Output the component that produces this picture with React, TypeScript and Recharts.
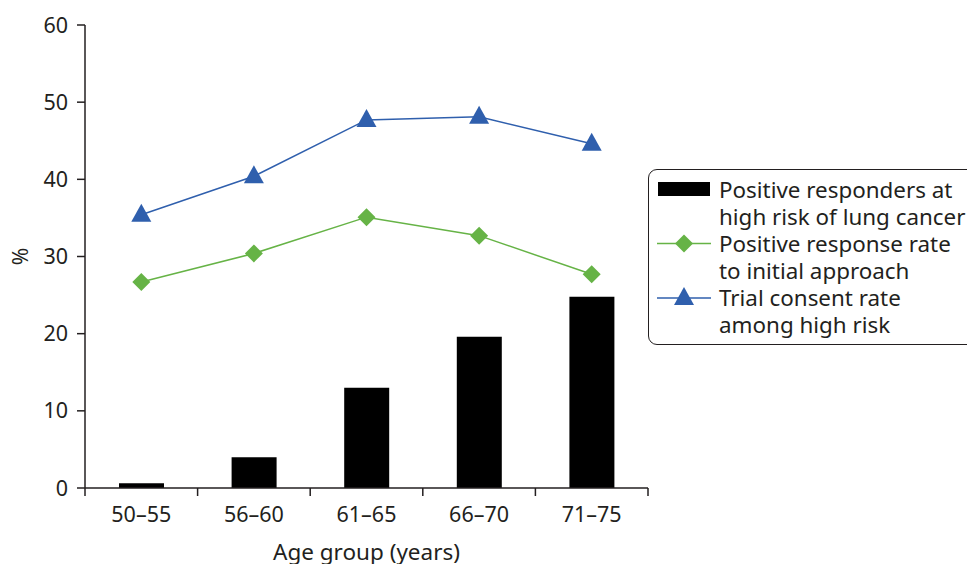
import React from "react";
import {
  ComposedChart,
  Bar,
  Line,
  XAxis,
  YAxis,
  Legend,
  Label,
} from "recharts";

const ageGroups = ["50–55", "56–60", "61–65", "66–70", "71–75"];
const highRiskResponders = [0.6, 4.0, 13.0, 19.6, 24.8];
const positiveResponseRate = [26.7, 30.4, 35.1, 32.7, 27.7];
const trialConsentRate = [35.4, 40.4, 47.7, 48.1, 44.6];
const yTicks = [0, 10, 20, 30, 40, 50, 60];
const xTicks = [0, 0.5, 1, 1.5, 2, 2.5, 3, 3.5, 4, 4.5, 5];

const FONT = "'Noto Sans', 'Open Sans', sans-serif";
const INK = "#231f20";
const GREEN = "#66b346";
const BLUE = "#2f5fad";

// categories sit at x = i + 0.5 so tick marks can fall on the boundaries
const data = ageGroups.map((g, i) => ({
  x: i + 0.5,
  group: g,
  highRisk: highRiskResponders[i],
  response: positiveResponseRate[i],
  consent: trialConsentRate[i],
}));

const TICK_SIZE = 8;
const TICK_MARGIN = 8;

function XTick(props: any) {
  const { x, y, payload } = props;
  const v = payload.value;
  if (Number.isInteger(v)) {
    const axisY = y - TICK_SIZE - TICK_MARGIN;
    return (
      <line x1={x} x2={x} y1={axisY} y2={axisY + TICK_SIZE} stroke={INK} strokeWidth={1.5} />
    );
  }
  const idx = Math.floor(v);
  return (
    <text x={x} y={y} dy="0.85em" textAnchor="middle" fill={INK} fontSize={21.5} fontFamily={FONT}>
      {ageGroups[idx]}
    </text>
  );
}

function Diamond(props: any) {
  const { cx, cy } = props;
  if (cx == null || cy == null) return null;
  const r = 9;
  return (
    <path d={`M${cx},${cy - r}L${cx + r},${cy}L${cx},${cy + r}L${cx - r},${cy}Z`} fill={GREEN} />
  );
}

function Triangle(props: any) {
  const { cx, cy } = props;
  if (cx == null || cy == null) return null;
  return (
    <path d={`M${cx},${cy - 11}L${cx + 10},${cy + 7}L${cx - 10},${cy + 7}Z`} fill={BLUE} />
  );
}

const legendItems = [
  { key: "bar", lines: ["Positive responders at", "high risk of lung cancer"] },
  { key: "green", lines: ["Positive response rate", "to initial approach"] },
  { key: "blue", lines: ["Trial consent rate", "among high risk"] },
];

function LegendIcon({ kind }: { kind: string }) {
  return (
    <svg width={54} height={27} style={{ flex: "none" }}>
      {kind === "bar" && <rect x={1} y={6} width={52} height={14} fill="#000" />}
      {kind === "green" && (
        <>
          <line x1={0} x2={54} y1={13.5} y2={13.5} stroke={GREEN} strokeWidth={1.5} />
          <path d="M27,4.5L36,13.5L27,22.5L18,13.5Z" fill={GREEN} />
        </>
      )}
      {kind === "blue" && (
        <>
          <line x1={0} x2={54} y1={14} y2={14} stroke={BLUE} strokeWidth={1.5} />
          <path d="M27,3L37,21L17,21Z" fill={BLUE} />
        </>
      )}
    </svg>
  );
}

function LegendBox() {
  return (
    <div
      style={{
        border: `1.5px solid ${INK}`,
        borderRadius: 9,
        padding: "6px 0 6px 8px",
        width: 340,
        boxSizing: "border-box",
        fontFamily: FONT,
        fontSize: 22.4,
        lineHeight: "27px",
        color: INK,
        background: "#fff",
      }}
    >
      {legendItems.map((it) => (
        <div key={it.key} style={{ display: "flex", alignItems: "flex-start" }}>
          <LegendIcon kind={it.key} />
          <div style={{ marginLeft: 8, whiteSpace: "nowrap" }}>
            {it.lines.map((l) => (
              <div key={l}>{l}</div>
            ))}
          </div>
        </div>
      ))}
    </div>
  );
}

export default function App(): React.ReactElement {
  return (
    <div style={{ width: 967, height: 564, overflow: "hidden", background: "#fff" }}>
      <style>{"body{margin:0}"}</style>
      <ComposedChart
        width={967}
        height={564}
        data={data}
        margin={{ top: 25, right: 319, left: 0, bottom: 0 }}
      >
        <XAxis
          dataKey="x"
          type="number"
          domain={[0, 5]}
          ticks={xTicks}
          interval={0}
          height={76}
          tickLine={false}
          tickSize={TICK_SIZE}
          tickMargin={TICK_MARGIN}
          tick={<XTick />}
          axisLine={{ stroke: INK, strokeWidth: 1.5 }}
        >
          <Label
            content={(p: any) => {
              const vb = p.viewBox;
              return (
                <text
                  x={vb.x + vb.width / 2}
                  y={vb.y + 72}
                  textAnchor="middle"
                  fill={INK}
                  fontSize={22.5}
                  fontFamily={FONT}
                >
                  Age group (years)
                </text>
              );
            }}
          />
        </XAxis>
        <YAxis
          domain={[0, 60]}
          ticks={yTicks}
          width={85}
          tickSize={TICK_SIZE}
          tickMargin={9}
          tick={{ fill: INK, fontSize: 21.5, fontFamily: FONT }}
          tickLine={{ stroke: INK, strokeWidth: 1.5 }}
          axisLine={{ stroke: INK, strokeWidth: 1.5 }}
        >
          <Label
            content={(p: any) => {
              const vb = p.viewBox;
              const cx = 20;
              const cy = vb.y + vb.height / 2;
              return (
                <text
                  x={cx}
                  y={cy}
                  transform={`rotate(-90 ${cx} ${cy})`}
                  textAnchor="middle"
                  dominantBaseline="central"
                  fill={INK}
                  fontSize={21}
                  fontFamily={FONT}
                >
                  %
                </text>
              );
            }}
          />
        </YAxis>
        <Bar dataKey="highRisk" fill="#000" barSize={45} isAnimationActive={false} />
        <Line
          dataKey="response"
          stroke={GREEN}
          strokeWidth={1.5}
          dot={<Diamond />}
          activeDot={false}
          isAnimationActive={false}
        />
        <Line
          dataKey="consent"
          stroke={BLUE}
          strokeWidth={1.5}
          dot={<Triangle />}
          activeDot={false}
          isAnimationActive={false}
        />
        <Legend
          layout="horizontal"
          align="center"
          verticalAlign="middle"
          content={() => <LegendBox />}
          wrapperStyle={{ left: 648, top: 169, width: 340 }}
        />
      </ComposedChart>
    </div>
  );
}
